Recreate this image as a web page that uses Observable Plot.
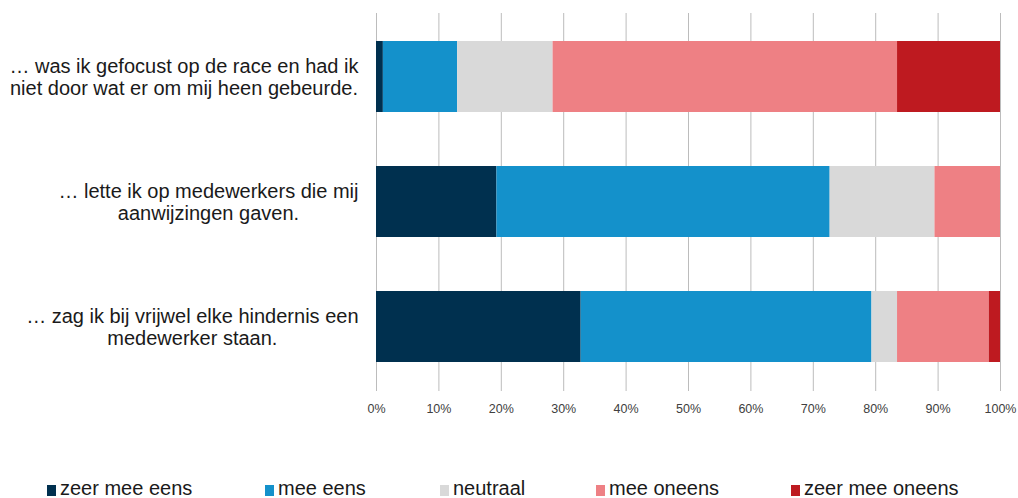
<!DOCTYPE html>
<html>
<head>
<meta charset="utf-8">
<script src="https://cdn.jsdelivr.net/npm/d3@7"></script>
<script src="https://cdn.jsdelivr.net/npm/@observablehq/plot@0.6"></script>
<style>
  html, body { margin: 0; padding: 0; background: #fff; }
  #wrap { position: relative; width: 1018px; height: 498px; overflow: hidden; font-family: "Liberation Sans", Arial, sans-serif; }
  #legend { position: absolute; top: 479px; left: 0; width: 1018px; height: 19px; font-size: 20px; color: #1a1a1a; }
  .item { position: absolute; top: 0; line-height: 19px; white-space: nowrap; }
  .sw { display: inline-block; width: 9px; height: 11px; margin-right: 4px; vertical-align: -1px; }
</style>
</head>
<body>
<div id="wrap"><div id="chart"></div><div id="legend"></div></div>
<script>
const questions = [
  "… was ik gefocust op de race en had ik\nniet door wat er om mij heen gebeurde.",
  "… lette ik op medewerkers die mij\naanwijzingen gaven.",
  "… zag ik bij vrijwel elke hindernis een\nmedewerker staan."
];
const categories = ["zeer mee eens", "mee eens", "neutraal", "mee oneens", "zeer mee oneens"];
const colors = ["#00304f", "#1491cb", "#d9d9d9", "#ee8084", "#be1a20"];
const zeerMeeEens   = [1.1, 19.3, 32.8];
const meeEens       = [11.9, 53.4, 46.6];
const neutraal      = [15.3, 16.8, 4.1];
const meeOneens     = [55.2, 10.5, 14.7];
const zeerMeeOneens = [16.5, 0.0, 1.8];
const xTicks = [0, 10, 20, 30, 40, 50, 60, 70, 80, 90, 100];

const series = [zeerMeeEens, meeEens, neutraal, meeOneens, zeerMeeOneens];
const data = [];
questions.forEach((q, i) => {
  categories.forEach((c, j) => data.push({question: q, category: c, value: series[j][i]}));
});

const labelSize = 20;
const ctx = document.createElement("canvas").getContext("2d");
ctx.font = labelSize + "px 'Liberation Sans'";
const gap = 18;
const labelMarks = questions.map(q => {
  const w = Math.max(...q.split("\n").map(s => ctx.measureText(s).width));
  return Plot.text([q], {
    y: d => d, text: d => d, frameAnchor: "left", textAnchor: "middle",
    dx: -gap - w / 2, dy: 0, lineHeight: 1.12, fontSize: labelSize, fill: "#1a1a1a",
    fontFamily: "Liberation Sans, Arial, sans-serif"
  });
});

const chart = Plot.plot({
  width: 1018,
  height: 430,
  marginLeft: 376,
  marginRight: 18,
  marginTop: 13,
  marginBottom: 39,
  style: {fontFamily: "Liberation Sans, Arial, sans-serif", background: "#fff"},
  x: {domain: [0, 100], ticks: xTicks, tickFormat: d => d + "%", tickSize: 0, tickPadding: 13, label: null},
  y: {domain: questions, paddingInner: 0.43, paddingOuter: 0.22, axis: null, label: null},
  color: {domain: categories, range: colors},
  marks: [
    Plot.gridX(xTicks, {stroke: "#bcbcbc", strokeOpacity: 1, strokeWidth: 1}),
    Plot.barX(data, Plot.stackX({x: "value", y: "question", fill: "category", order: categories})),
    Plot.axisX(xTicks, {tickFormat: d => d + "%", tickSize: 0, tickPadding: 13, fontSize: 12.5, fill: "#404040", label: null}),
    ...labelMarks
  ]
});
document.getElementById("chart").appendChild(chart);

const legendLefts = [47, 265, 440, 596, 791];
const legend = document.getElementById("legend");
categories.forEach((c, i) => {
  const it = document.createElement("div");
  it.className = "item";
  it.style.left = legendLefts[i] + "px";
  const sw = document.createElement("span");
  sw.className = "sw";
  sw.style.background = colors[i];
  it.appendChild(sw);
  it.appendChild(document.createTextNode(c));
  legend.appendChild(it);
});
</script>
</body>
</html>
